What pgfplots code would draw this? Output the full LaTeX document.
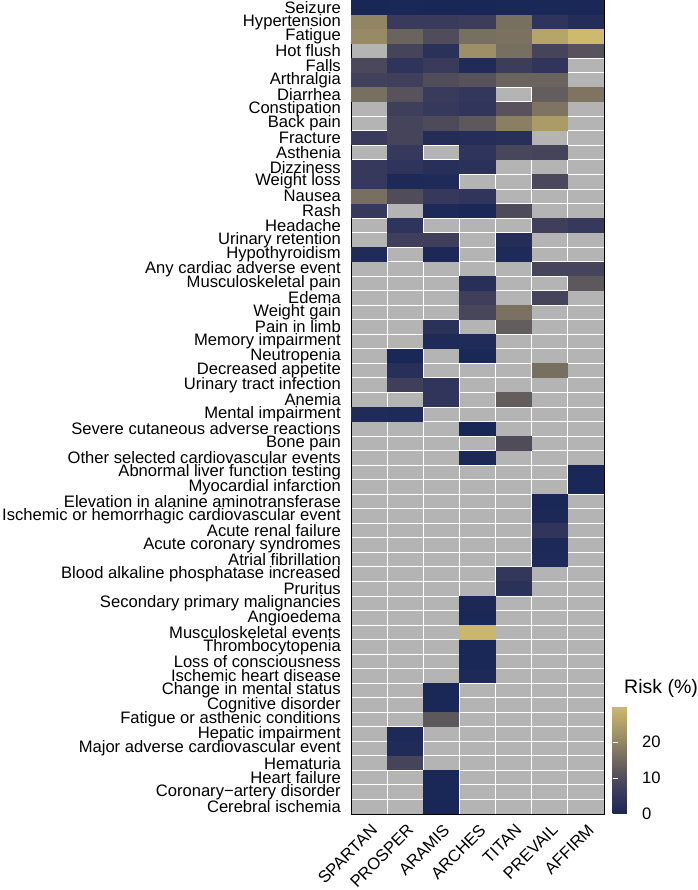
\documentclass[border=0pt]{standalone}
\usepackage{fontspec}
\setmainfont{Liberation Sans}
\usepackage{pgfplots}
\usepackage{pgfplotstable}
\pgfplotsset{compat=1.18}
\pgfdeclareplotmark{cell}{\pgfpathrectangle{\pgfpoint{-18.07pt}{-7.268pt}}{\pgfpoint{36.14pt}{14.536pt}}\pgfusepathqfill}
\definecolor{nagrey}{RGB}{180,180,180}
\pgfplotstableread{
x y v
1 1 0.3
2 1 0.5
3 1 0.3
4 1 0.4
5 1 0.6
6 1 0.5
7 1 0.5
1 2 20
2 2 6
3 2 6
4 2 6.5
5 2 16
6 2 4
7 2 2
1 3 21
2 3 14
3 3 10
4 3 16
5 3 16.5
6 3 26
7 3 30
2 4 8
3 4 3.5
4 4 22
5 4 16
6 4 8
7 4 11
1 5 9
2 5 4
3 5 6
4 5 1.5
5 5 6.5
6 5 4.5
1 6 7.5
2 6 7
3 6 10
4 6 11
5 6 14
6 6 14
1 7 16
2 7 11
3 7 6
4 7 5
6 7 13
7 7 17
2 8 7
3 8 5.5
4 8 4.5
5 8 11
6 8 17
2 9 8
3 9 9.5
4 9 12
5 9 19
6 9 24
1 10 6
2 10 8
3 10 2
4 10 2.5
5 10 3
2 11 5.5
4 11 4
5 11 8.5
6 11 8
1 12 5.5
2 12 4
3 12 3
4 12 3.5
1 13 5.5
2 13 1
3 13 1.2
6 13 9
1 14 16
2 14 10
3 14 5.5
4 14 4.5
1 15 5.5
3 15 1
4 15 0.5
5 15 9.5
2 16 4
6 16 7
7 16 5.5
2 17 7
3 17 7
5 17 2.5
1 18 1.5
3 18 0.8
5 18 1.2
6 19 8
7 19 8
4 20 3
7 20 12
4 21 7
6 21 8
4 22 8.5
5 22 16.5
3 23 3.5
5 23 13
3 24 1.2
4 24 1.5
2 25 0.5
4 25 0.5
2 26 3
6 26 16
2 27 7
3 27 4.5
3 28 4.5
5 28 13
1 29 1.5
2 29 1.2
4 30 0.3
5 31 10
4 32 0.8
7 33 0.5
7 34 0.5
6 35 0.5
6 36 0.8
6 37 4.5
6 38 1
6 39 1.2
5 40 5
5 41 3.5
4 42 0.8
4 43 0.5
4 44 29.5
4 45 0.5
4 46 0.5
4 47 1
3 48 0.5
3 49 0.5
3 50 12
2 51 1
2 52 1.5
2 53 8
3 54 0.5
3 55 0.5
3 56 0.4
}\risk
\begin{document}
\begin{tikzpicture}
\begin{axis}[
 at={(0,0)}, anchor=south west,
 scale only axis, width=253pt, height=814pt,
 xmin=0.5, xmax=7.5, ymin=0.5, ymax=56.5, y dir=reverse,
 xtick={1,...,7},
 xticklabels={SPARTAN,PROSPER,ARAMIS,ARCHES,TITAN,PREVAIL,AFFIRM},
 ytick={1,...,56},
 yticklabels={Seizure,Hypertension,Fatigue,Hot flush,Falls,Arthralgia,Diarrhea,Constipation,Back pain,Fracture,Asthenia,Dizziness,Weight loss,Nausea,Rash,Headache,Urinary retention,Hypothyroidism,Any cardiac adverse event,Musculoskeletal pain,Edema,Weight gain,Pain in limb,Memory impairment,Neutropenia,Decreased appetite,Urinary tract infection,Anemia,Mental impairment,Severe cutaneous adverse reactions,Bone pain,Other selected cardiovascular events,Abnormal liver function testing,Myocardial infarction,Elevation in alanine aminotransferase,Ischemic or hemorrhagic cardiovascular event,Acute renal failure,Acute coronary syndromes,Atrial fibrillation,Blood alkaline phosphatase increased,Pruritus,Secondary primary malignancies,Angioedema,Musculoskeletal events,Thrombocytopenia,Loss of consciousness,Ischemic heart disease,Change in mental status,Cognitive disorder,Fatigue or asthenic conditions,Hepatic impairment,Major adverse cardiovascular event,Hematuria,Heart failure,Coronary−artery disorder,Cerebral ischemia},
 major tick length=0pt, minor tick length=0pt,
 minor xtick={1.5,2.5,...,6.5}, minor ytick={1.5,2.5,...,55.5},
 minor grid style={white, line width=0.9pt},
 xminorgrids, yminorgrids,
 axis on top,
 axis background/.style={fill=nagrey},
 axis line style={black, line width=0.8pt},
 tick label style={font=\fontsize{16.6}{17}\selectfont},
 xticklabel style={yshift=-9pt, xshift=1pt, rotate=45, anchor=north east, inner sep=0pt},
 yticklabel style={anchor=east, inner sep=0pt, xshift=-10pt},
 colormap={risk}{rgb255(0)=(23,38,86) rgb255(5)=(52,55,92) rgb255(10)=(80,76,90) rgb255(15)=(113,105,95) rgb255(20)=(145,133,100) rgb255(25)=(176,160,104) rgb255(30)=(206,186,108)},
 point meta min=0, point meta max=30,
 colorbar,
 colorbar style={
   at={([xshift=20pt]parent axis.south east)}, anchor=south west,
   scale only axis, width=21pt, height=108pt,
   ytick={0,10,20},
   axis line style={draw=none},
   tick style={draw=white, line width=0.7pt},
   major tick length=5pt,
   tick align=inside,
   ytick pos=both,
   yticklabel pos=right,
   axis on top,
   yticklabel style={font=\fontsize{16.6}{17}\selectfont, xshift=5pt},
   /pgf/number format/assume math mode=true,
 },
]
\addplot[scatter, only marks, mark=cell,
  scatter/use mapped color={draw=none, fill=mapped color},
  point meta=explicit] table[x=x, y=y, meta=v] {\risk};
\end{axis}
\node[anchor=west, font=\fontsize{19.5}{20}\selectfont, inner sep=0pt] at (273pt,126pt) {Risk (\%)};
\pgfresetboundingbox
\path[use as bounding box] (-351pt,-76pt) rectangle (346pt,814pt);
\end{tikzpicture}
\end{document}
